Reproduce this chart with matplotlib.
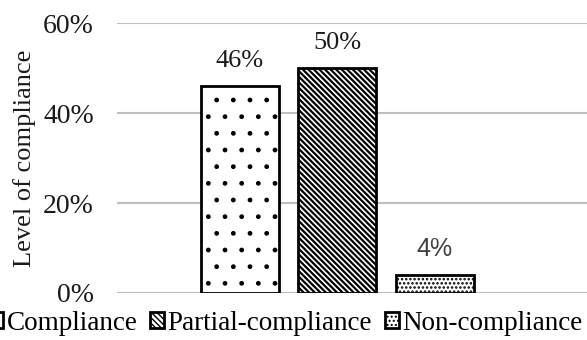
import matplotlib.pyplot as plt
from matplotlib.ticker import PercentFormatter

plt.rcParams["font.family"] = ["Liberation Serif", "DejaVu Serif"]

series = ["Compliance", "Partial-compliance", "Non-compliance"]
values = [46, 50, 4]
hatches = [".", "\\\\\\\\\\\\", "...."]
hatch_widths = [1.0, 1.6, 1.2]
label_fonts = ["Liberation Serif", "Liberation Serif", "Liberation Sans"]
label_colors = ["#1a1a1a", "#1a1a1a", "#404040"]
yticks = [0, 20, 40, 60]

fig = plt.figure(figsize=(5.87, 3.4), dpi=100)
ax = fig.add_axes([117 / 587, 1 - 293 / 340, 470 / 587, 270 / 340])

positions = [-1, 0, 1]
for pos, name, val, h, hw, lf, lc in zip(positions, series, values, hatches,
                                         hatch_widths, label_fonts, label_colors):
    plt.rcParams["hatch.linewidth"] = hw
    ax.bar(pos, val, width=0.8, color="white", edgecolor="black",
           linewidth=2, hatch=h, label=name, zorder=3)
    ax.annotate(f"{val}%", (pos, val), xytext=(0, 13.7), textcoords="offset points",
                ha="center", va="baseline", fontsize=18 if lf == "Liberation Sans" else 19,
                family=lf, color=lc)

ax.set_xlim(-2.26, 2.56)
ax.set_ylim(0, 60)
ax.set_yticks(yticks)
ax.yaxis.set_major_formatter(PercentFormatter(decimals=0))
ax.grid(axis="y", color="#bfbfbf", linewidth=1.5, zorder=0)
ax.set_xticks([])
for s in ax.spines.values():
    s.set_visible(False)
ax.tick_params(axis="y", length=0, pad=16.5, labelsize=20, labelcolor="#1a1a1a")
ax.set_ylabel("Level of compliance", fontsize=19, color="#1a1a1a")
ax.yaxis.set_label_coords(-0.172, 0.5)

plt.rcParams["hatch.linewidth"] = 1.0
fig.legend(loc="center", bbox_to_anchor=(286 / 587, 1 - 323 / 340), ncol=3,
           frameon=False, fontsize=19.5, handlelength=0.52, handleheight=0.52,
           handletextpad=0.12, columnspacing=0.48, borderpad=0, labelcolor="#000000")

fig.savefig("out.png", dpi=100)
